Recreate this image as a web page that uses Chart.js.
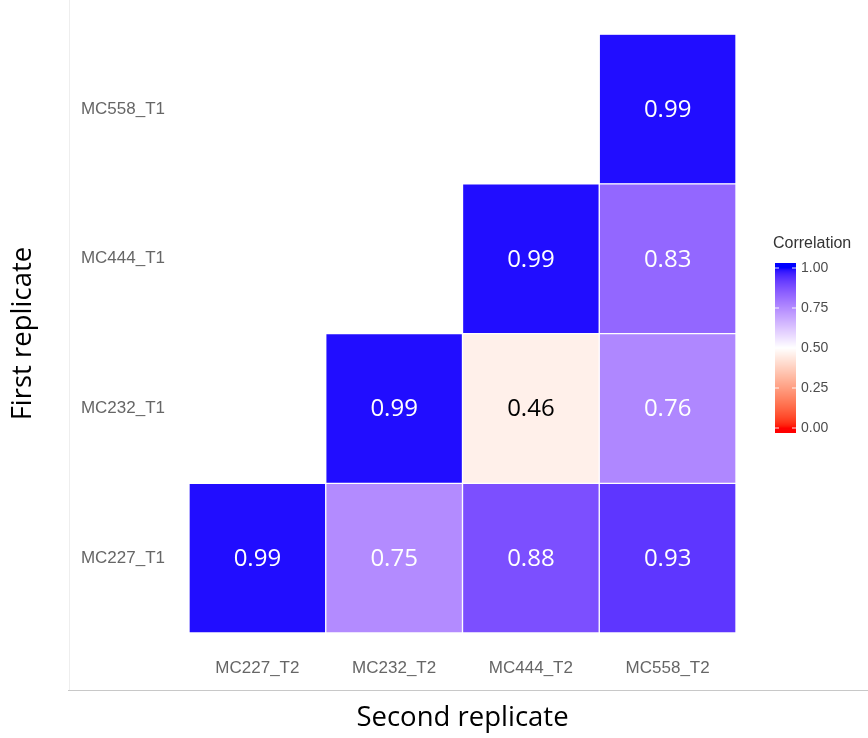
<!DOCTYPE html>
<html lang="en">
<head>
  <meta charset="UTF-8">
  <title>Replicate correlation</title>
  <script src="https://cdn.jsdelivr.net/npm/chart.js"></script>
  <style>
    html, body { margin: 0; padding: 0; background: #fff; }
    #wrap { width: 868px; height: 738px; }
  </style>
</head>
<body>
  <div id="wrap"><canvas id="heat" width="868" height="738"></canvas></div>

  <script>
    // columns = second replicate, rows = first replicate (bottom to top)
    const colLabels = ['MC227_T2', 'MC232_T2', 'MC444_T2', 'MC558_T2'];
    const rowLabels = ['MC227_T1', 'MC232_T1', 'MC444_T1', 'MC558_T1'];
    const rowMC227 = [0.99, 0.75, 0.88, 0.93];
    const rowMC232 = [null, 0.99, 0.46, 0.76];
    const rowMC444 = [null, null, 0.99, 0.83];
    const rowMC558 = [null, null, null, 0.99];
    const legendTicks = [0, 0.25, 0.5, 0.75, 1];

    const rows = [rowMC227, rowMC232, rowMC444, rowMC558];

    // red - white - blue gradient interpolated in Lab (like scale_fill_gradient2)
    function toLab(rgb) {
      const lin = rgb.map(c => { c /= 255; return c <= 0.04045 ? c / 12.92 : Math.pow((c + 0.055) / 1.055, 2.4); });
      const X = (0.4124 * lin[0] + 0.3576 * lin[1] + 0.1805 * lin[2]) / 0.95047;
      const Y = (0.2126 * lin[0] + 0.7152 * lin[1] + 0.0722 * lin[2]);
      const Z = (0.0193 * lin[0] + 0.1192 * lin[1] + 0.9505 * lin[2]) / 1.08883;
      const f = t => t > 0.008856 ? Math.cbrt(t) : 7.787 * t + 16 / 116;
      return [116 * f(Y) - 16, 500 * (f(X) - f(Y)), 200 * (f(Y) - f(Z))];
    }
    function fromLab(lab) {
      const fy = (lab[0] + 16) / 116, fx = fy + lab[1] / 500, fz = fy - lab[2] / 200;
      const inv = t => t * t * t > 0.008856 ? t * t * t : (t - 16 / 116) / 7.787;
      const X = inv(fx) * 0.95047, Y = inv(fy), Z = inv(fz) * 1.08883;
      const lin = [
        3.2406 * X - 1.5372 * Y - 0.4986 * Z,
        -0.9689 * X + 1.8758 * Y + 0.0415 * Z,
        0.0557 * X - 0.2040 * Y + 1.0570 * Z
      ];
      return lin.map(c => {
        c = c <= 0.0031308 ? 12.92 * c : 1.055 * Math.pow(c, 1 / 2.4) - 0.055;
        return Math.round(Math.max(0, Math.min(1, c)) * 255);
      });
    }
    const labRed = toLab([255, 0, 0]), labWhite = toLab([255, 255, 255]), labBlue = toLab([0, 0, 255]);
    function corrColor(v) {
      let a, b, t;
      if (v < 0.5) { a = labRed; b = labWhite; t = v / 0.5; }
      else { a = labWhite; b = labBlue; t = (v - 0.5) / 0.5; }
      const lab = a.map((x, i) => x + (b[i] - x) * t);
      const c = fromLab(lab);
      return 'rgb(' + c.join(',') + ')';
    }

    const datasets = rows.map((vals, r) => ({
      data: vals.map(v => v == null ? null : [r, r + 1]),
      values: vals,
      backgroundColor: vals.map(v => v == null ? 'rgba(0,0,0,0)' : corrColor(v)),
      borderColor: 'rgba(255,255,255,0.9)',
      borderWidth: 1,
      borderSkipped: false,
      grouped: false,
      barPercentage: 1,
      categoryPercentage: 1
    }));

    // numbers inside the tiles
    const cellText = {
      id: 'cellText',
      afterDatasetsDraw(chart) {
        const ctx = chart.ctx;
        ctx.save();
        ctx.font = '24px "Open Sans", sans-serif';
        ctx.textAlign = 'center';
        ctx.textBaseline = 'middle';
        chart.data.datasets.forEach((ds, di) => {
          const meta = chart.getDatasetMeta(di);
          ds.values.forEach((v, i) => {
            if (v == null) return;
            const el = meta.data[i];
            const y = (el.y + el.base) / 2;
            ctx.fillStyle = v < 0.6 ? '#000' : '#fff';
            ctx.fillText(v.toFixed(2), el.x, y + 1);
          });
        });
        ctx.restore();
      }
    };

    // colourbar legend + frame lines
    const colourBar = {
      id: 'colourBar',
      afterDraw(chart) {
        const ctx = chart.ctx;
        const x0 = 775, w = 21, yTop = 268, yBot = 428, ext = 5;
        ctx.save();
        // frame lines around plot image
        ctx.strokeStyle = '#eeeeee';
        ctx.lineWidth = 1;
        ctx.beginPath(); ctx.moveTo(69.5, 0); ctx.lineTo(69.5, 690); ctx.stroke();
        ctx.strokeStyle = '#c8c8c8';
        ctx.beginPath(); ctx.moveTo(68, 690.5); ctx.lineTo(868, 690.5); ctx.stroke();

        ctx.fillStyle = '#333';
        ctx.font = '16px "Liberation Sans", Arial, sans-serif';
        ctx.textAlign = 'left';
        ctx.textBaseline = 'middle';
        ctx.fillText('Correlation', 773, 244);

        const top = yTop - ext, bot = yBot + ext;
        for (let y = top; y < bot; y++) {
          let v = 1 - (y + 0.5 - yTop) / (yBot - yTop);
          v = Math.max(0, Math.min(1, v));
          ctx.fillStyle = corrColor(v);
          ctx.fillRect(x0, y, w, 1);
        }
        ctx.font = '14px "Liberation Sans", Arial, sans-serif';
        legendTicks.forEach(t => {
          const y = yBot - t * (yBot - yTop);
          ctx.strokeStyle = 'rgba(255,255,255,0.9)';
          ctx.beginPath();
          ctx.moveTo(x0, y); ctx.lineTo(x0 + 4, y);
          ctx.moveTo(x0 + w - 4, y); ctx.lineTo(x0 + w, y);
          ctx.stroke();
          ctx.fillStyle = '#4d4d4d';
          ctx.fillText(t.toFixed(2), x0 + w + 5, y);
        });
        ctx.restore();
      }
    };

    const tickFont = { family: '"Liberation Sans", Arial, sans-serif', size: 17 };
    const titleFont = { family: '"Open Sans", sans-serif', size: 27.5 };

    new Chart(document.getElementById('heat').getContext('2d'), {
      type: 'bar',
      data: { labels: colLabels, datasets: datasets },
      options: {
        responsive: false,
        animation: false,
        layout: { padding: { top: 32, right: 132, left: 0, bottom: 0 } },
        plugins: { legend: { display: false }, tooltip: { enabled: false } },
        scales: {
          x: {
            grid: { display: false, drawTicks: false },
            border: { display: false },
            ticks: { color: '#666', font: tickFont, padding: 25, maxRotation: 0 },
            title: { display: true, text: 'Second replicate', color: '#000', font: titleFont, padding: { top: 0, bottom: 3 } },
            afterFit(scale) { scale.height = 105; }
          },
          y: {
            min: 0,
            max: 4,
            grid: { display: false, drawTicks: false },
            border: { display: false },
            afterBuildTicks(scale) { scale.ticks = [0.5, 1.5, 2.5, 3.5].map(v => ({ value: v })); },
            ticks: {
              color: '#666', font: tickFont, padding: 24, autoSkip: false,
              callback: v => rowLabels[Math.floor(v)]
            },
            title: { display: true, text: 'First replicate', color: '#000', font: titleFont, padding: { top: 7, bottom: 0 } },
            afterFit(scale) { scale.width = 189; }
          }
        }
      },
      plugins: [cellText, colourBar]
    });
  </script>
</body>
</html>
